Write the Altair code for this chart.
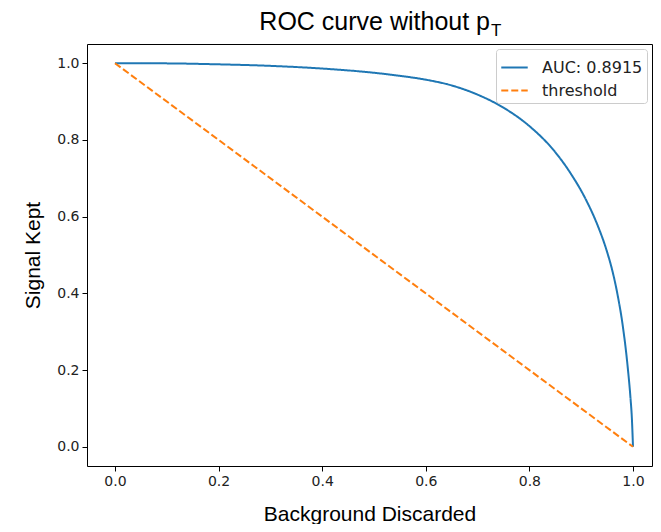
import altair as alt
import pandas as pd

# ROC curve (Background Discarded vs Signal Kept)
roc_x = [0.0, 0.1, 0.2, 0.3, 0.4, 0.5, 0.55, 0.6, 0.65, 0.7, 0.75, 0.8, 0.85,
         0.88, 0.91, 0.93, 0.95, 0.96, 0.97, 0.98, 0.99, 0.995, 0.998, 1.0]
roc_y = [1.0, 0.9995, 0.997, 0.993, 0.986, 0.975, 0.967, 0.957, 0.942, 0.918, 0.884,
         0.836, 0.768, 0.712, 0.642, 0.583, 0.508, 0.460, 0.398, 0.318, 0.205, 0.13,
         0.07, 0.0]

thr_x = [0.0, 1.0]
thr_y = [1.0, 0.0]

series_names = ["AUC: 0.8915", "threshold"]
series_colors = ["#1f77b4", "#ff7f0e"]
x_ticks = [0.0, 0.2, 0.4, 0.6, 0.8, 1.0]
y_ticks = [0.0, 0.2, 0.4, 0.6, 0.8, 1.0]
title_main = ["ROC curve without p"]
title_sub = ["T"]

rows = []
for i, (a, b) in enumerate(zip(roc_x, roc_y)):
    rows.append({"x": a, "y": b, "series": series_names[0], "o": i})
for i, (a, b) in enumerate(zip(thr_x, thr_y)):
    rows.append({"x": a, "y": b, "series": series_names[1], "o": i})
df = pd.DataFrame(rows)

W, H = 565, 422

lines = alt.Chart(df).mark_line(strokeWidth=2, interpolate="monotone").encode(
    x=alt.X("x:Q", scale=alt.Scale(domain=[-0.054, 1.0367], nice=False, zero=False),
            axis=alt.Axis(values=x_ticks, format=".1f", title="Background Discarded")),
    y=alt.Y("y:Q", scale=alt.Scale(domain=[-0.05, 1.05], nice=False, zero=False),
            axis=alt.Axis(values=y_ticks, format=".1f", title="Signal Kept")),
    color=alt.Color("series:N", scale=alt.Scale(domain=series_names, range=series_colors),
                    legend=alt.Legend(title=None, orient="top-right", offset=5,
                                      symbolType="stroke",
                                      symbolSize=700, symbolStrokeWidth=2,
                                      labelFont="DejaVu Sans", labelFontSize=16,
                                      labelColor="#222222", labelOffset=13,
                                      fillColor="white", strokeColor="#cccccc",
                                      cornerRadius=3, padding=4,
                                      rowPadding=-2)),
    strokeDash=alt.StrokeDash("series:N",
                              scale=alt.Scale(domain=series_names, range=[[1, 0], [7, 3]]),
                              legend=None),
    detail="series:N",
    order="o:Q",
)

t_main = alt.Chart(pd.DataFrame({"t": title_main})).mark_text(
    font="Liberation Sans", fontSize=25, align="right", baseline="alphabetic", color="black"
).encode(text="t:N", x=alt.value(403), y=alt.value(-14))

t_sub = alt.Chart(pd.DataFrame({"t": title_sub})).mark_text(
    font="Liberation Sans", fontSize=17, align="left", baseline="alphabetic", color="black"
).encode(text="t:N", x=alt.value(404), y=alt.value(-8))

chart = alt.layer(lines, t_main, t_sub).properties(
    width=W, height=H,
    autosize=alt.AutoSizeParams(type="none"),
    padding={"left": 79, "top": 36, "right": 1, "bottom": 58},
).configure_view(
    stroke="black", strokeWidth=1
).configure_axis(
    grid=False, domain=False, tickColor="black", tickSize=5, tickWidth=1,
    labelFont="DejaVu Sans", labelFontSize=14, labelColor="#222222", labelPadding=3,
    titleFont="Liberation Sans", titleFontSize=21, titleFontWeight="normal",
    titleColor="black",
).configure_axisX(titlePadding=15).configure_axisY(titlePadding=13)

chart.save("out.html", embed_options={"renderer": "svg", "actions": False})
